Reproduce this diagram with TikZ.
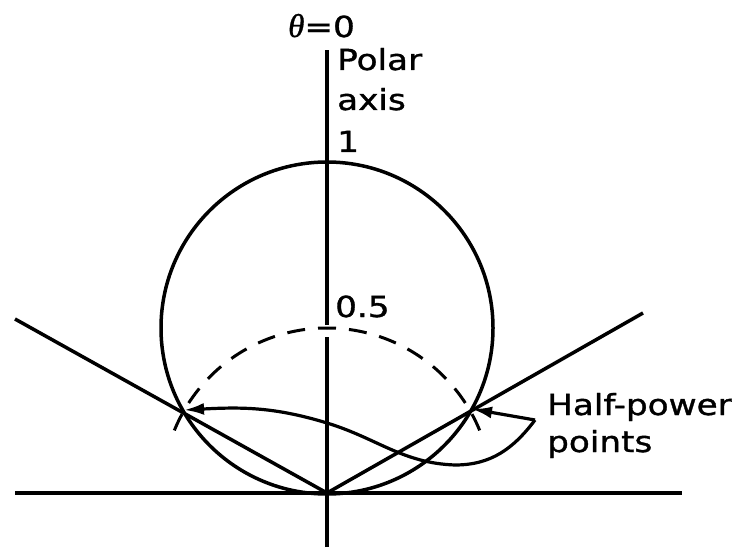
\documentclass[tikz,border=0pt]{standalone}
\usepackage{fontspec}
\usetikzlibrary{arrows.meta}
\newfontfamily\labfont[FakeStretch=1.18,FakeBold=1.2]{DejaVu Sans}
\newfontfamily\thfont[FakeBold=1]{Liberation Serif}
\begin{document}
\begin{tikzpicture}[x=1pt,y=1pt,
  lab/.style={font={\labfont\fontsize{29}{34}\selectfont}, inner sep=0pt, anchor=base west},
  axisline/.style={line width=3.8pt},
  curveline/.style={line width=3.5pt},
  ptr/.style={line width=3.2pt, -{Latex[length=20pt,width=12pt]}},
  dashline/.style={line width=3pt, dash pattern=on 18pt off 13pt, dash phase=9pt}]
\useasboundingbox (0,0) rectangle (752,547);
% key points
\coordinate (O) at (327,54);
\coordinate (C) at (327,219);
\coordinate (axT) at (327,497);
\coordinate (axB) at (327,0);
\coordinate (gapLo) at (327,210);
\coordinate (gapHi) at (327,222);
\coordinate (hL) at (15,54);
\coordinate (hR) at (682,54);
\coordinate (lnL) at (15,228);
\coordinate (lnR) at (643,234);
\coordinate (HPL) at (184,137);
\coordinate (HPR) at (472,138);
\coordinate (T) at (535,127);
\coordinate (A) at (455,82);
\coordinate (B) at (327,124);
\coordinate (D) at (327,219);
% axes
\draw[axisline] (axB) -- (gapLo);
\draw[axisline] (gapHi) -- (axT);
\draw[axisline] (hL) -- (hR);
% pattern circle
\draw[curveline] (C) circle[radius=166];
% straight lines through half-power points
\draw[curveline] (lnL) -- (O) -- (lnR);
% dashed half-value arc
\draw[dashline] (D) arc[start angle=90, end angle=162, radius=165];
\draw[dashline] (D) arc[start angle=90, end angle=18, radius=165];
% pointer
\draw[ptr] (T) -- (HPR);
\draw[ptr] (T) to[out=-127,in=0] (A) to[out=178,in=-17] (B) to[out=163,in=3] (HPL);
% labels
\node[lab] (theta) at (288,510) {{\thfont\itshape\fontsize{33}{36}\selectfont θ}=0};
\node[lab] (polar) at (337,477) {Polar};
\node[lab] (axis) at (337,437) {axis};
\node[lab] (one) at (337,395) {1};
\node[lab] (half) at (335,230) {0.5};
\node[lab] (hp1) at (547,132) {Half-power};
\node[lab] (hp2) at (547,95) {points};
\end{tikzpicture}
\end{document}
